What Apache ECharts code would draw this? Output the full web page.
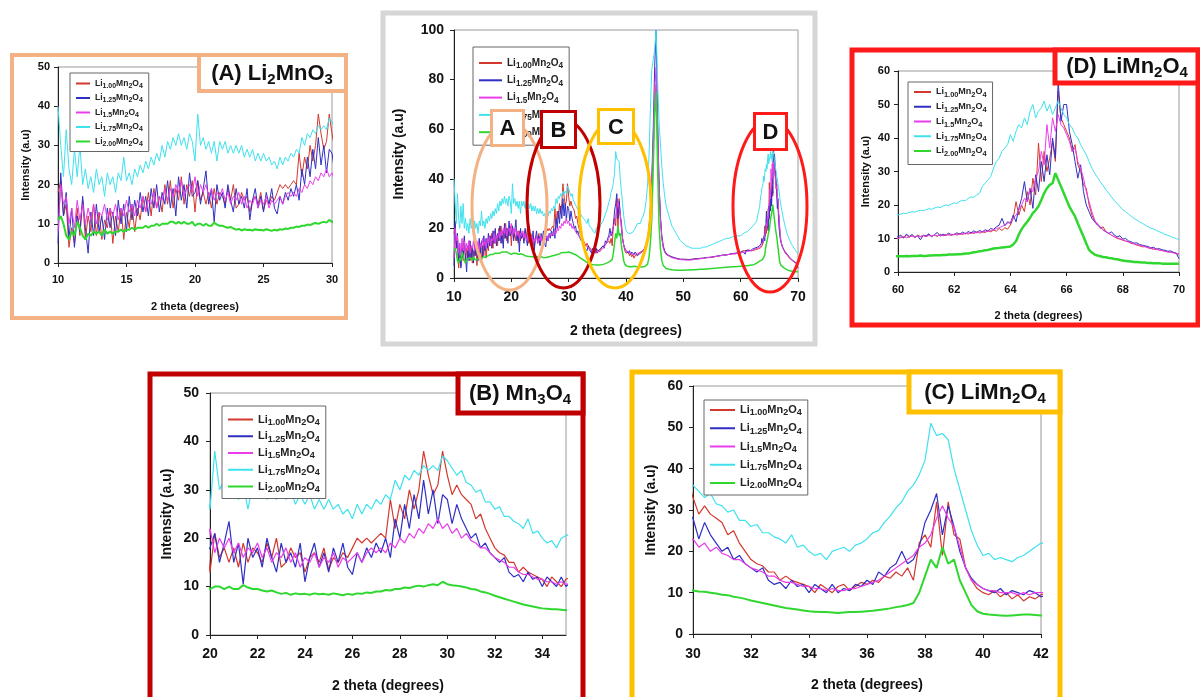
<!DOCTYPE html>
<html>
<head>
<meta charset="utf-8">
<title>XRD LixMn2O4</title>
<script src="https://cdn.jsdelivr.net/npm/echarts@6/dist/echarts.min.js"></script>
<style>
html, body { margin: 0; padding: 0; background: #fff; }
#main { width: 1200px; height: 697px; }
</style>
</head>
<body>
<div id="main"></div>
<script>
// 2 theta sampling: [start, end, step]
const SEGMENTS = [[10, 42, 0.2], [42.25, 47, 0.25], [47.5, 59.5, 0.5], [60, 70, 0.1]];
const names = ['Li1.00Mn2O4', 'Li1.25Mn2O4', 'Li1.5Mn2O4', 'Li1.75Mn2O4', 'Li2.00Mn2O4'];
const colors = ['#d3382d', '#2f2fc4', '#ea3dea', '#3fe1ee', '#2fd72f'];

// intensities (10-42 / 42-60 / 60-70)
const li100 = [
  18, 21, 12, 15, 4, 9, 5, 14, 7, 16,
  6, 12, 8, 15, 7, 13, 6, 11, 9, 14,
  5, 12, 8, 14, 6, 13, 9, 15, 8, 14,
  11, 17, 13, 18, 12, 19, 14, 17, 13, 20,
  15, 21, 14, 19, 16, 22, 15, 20, 17, 21,
  13, 21, 16, 18, 15, 18, 14, 19, 15, 18,
  17, 15, 19, 16, 20, 14, 15, 18, 16, 17,
  13, 16, 17, 15, 18, 13.5, 16, 15, 17, 16,
  18, 20, 19, 20, 19, 20, 21, 20, 28, 22,
  27, 24, 30, 26, 30, 38, 33, 29, 31, 38,
  33, 29, 31, 29, 28, 27, 24, 25, 22, 20,
  18, 17, 16.5, 15, 15, 13, 14, 13, 12.5, 12,
  11.5, 10, 12, 11, 10, 11.5, 12, 10.5, 11.5, 12.5,
  12, 13, 12.5, 14, 13.5, 15, 14, 16, 13, 22,
  24, 21, 32, 19, 32, 24, 23, 16, 13, 11,
  10, 9.5, 10.5, 9, 10, 8.5, 9.5, 8, 9, 8.5,
  9.5,
  10, 10.5, 10, 11, 11.5, 13, 15, 19, 26, 36, 52, 68, 78, 58, 38, 24, 16, 12.5, 10.5, 9.5,
  9, 8.5, 8, 7.8, 7.6, 7.5, 7.6, 7.4, 7.6, 7.8, 7.7, 8, 7.9, 8.2, 8.4, 8.3, 8.6, 8.8, 9, 9.2, 9.4, 9.5, 9.8, 9.7, 10,
  10, 10.5, 10.2, 11, 10.4, 10.8, 10.3, 11, 10.6, 10.9,
  10.5, 11.2, 10.7, 11, 10.6, 11.3, 10.8, 11, 11.2, 10.9,
  11.3, 11, 11.5, 11.2, 11.6, 11.3, 11.8, 11.5, 12, 11.6,
  12, 11.8, 12.3, 12, 12.5, 12.2, 13, 12.4, 13.2, 12.8,
  14, 16, 21, 17, 20, 18, 24, 20, 28, 23,
  38.5, 27, 36, 30, 34, 39, 33, 54, 46, 44,
  42, 40, 36, 38, 32, 30, 26, 25, 20, 17,
  15, 14.5, 13, 13.5, 12, 11.5, 11, 10.5, 10, 9.8,
  9.5, 9.2, 9, 8.5, 8.4, 8, 7.8, 7.5, 7.6, 7.2,
  7, 6.8, 6.9, 6.5, 6.4, 6.2, 6, 5.9, 5.8, 5.6,
  5.3
];
const li125 = [
  5, 23, 12, 18, 6, 14, 4, 12, 8, 17,
  9, 2.5, 13, 7, 15, 8, 12, 6, 14, 9,
  13, 7, 16, 10, 15, 8, 17, 11, 16, 12,
  18, 13, 17, 12, 19, 14, 20, 13, 18, 15,
  21, 14, 19, 12, 22, 16, 20, 14, 23, 17,
  18, 21, 15, 19, 23.5, 15, 19, 10.5, 20, 16,
  18, 14, 20, 16, 13, 19, 15, 17, 14, 19,
  11, 16, 19, 14, 17, 13, 18, 15, 19, 14,
  12.5, 17, 15, 18, 16, 19, 17, 20, 16, 24,
  20, 27, 22, 29, 24, 32, 25, 30, 23, 29,
  28, 23, 27, 24, 22, 20, 21, 18, 19, 17,
  16, 15, 16, 13, 12, 12.5, 11, 13, 11.5, 12,
  10, 12, 11, 10, 12, 10, 11, 10.5, 12, 11.5,
  13, 12, 15, 14, 16, 17, 20, 17, 18, 21,
  27, 30, 34, 24, 31, 26, 20, 16, 13.5, 12,
  11, 10.5, 10, 11, 9.5, 10.5, 10, 9.5, 10.5, 10,
  9,
  9.5, 10, 10.5, 11, 12, 13.5, 15.5, 20, 28, 40, 60, 85, 100, 66, 40, 25, 17, 13, 11, 10,
  9, 8.5, 8.2, 7.8, 7.5, 7.6, 7.3, 7.5, 7.4, 7.7, 7.9, 7.8, 8.1, 8.3, 8.2, 8.5, 8.7, 8.9, 9.1, 9.3, 9.2, 9.6, 9.8, 10, 10.2,
  10.5, 11, 10.2, 11.3, 10.6, 11.2, 10.4, 10.8, 9.6, 11,
  10.8, 11.4, 10.5, 11.2, 11.8, 10.7, 11.3, 11, 11.6, 11.1,
  11.2, 11.7, 11.3, 11.9, 11.4, 12.1, 11.7, 12.3, 11.8, 12.4,
  12, 12.6, 12.2, 13, 12.7, 13.5, 14, 16, 13.8, 15,
  14.5, 17, 15, 19, 22, 27, 21, 25, 19, 29,
  24, 33, 27, 35, 29, 40, 34, 57, 45, 50,
  50, 42, 38, 33, 28, 32, 24, 20, 18, 16,
  15, 14, 13.5, 12.5, 12, 11.5, 12, 11, 10.5, 10.8,
  9.8, 10, 9.3, 9, 8.6, 8.7, 8.2, 8, 7.8, 7.6,
  7.2, 7.4, 6.8, 7, 6.6, 6.5, 6.2, 6.3, 5.9, 5.6,
  4
];
const li150 = [
  8, 20, 15, 17, 10, 14, 9, 16, 11, 15,
  10, 14, 11, 15, 10, 13, 12, 15, 11, 14,
  12, 15, 11, 14, 12, 16, 13, 15, 12, 16,
  14, 17, 13, 16, 15, 18, 14, 17, 16, 19,
  16, 19, 17, 20, 18, 21, 17, 19, 20, 18,
  22, 17, 20, 18, 20, 17, 19, 16, 18, 17,
  19, 16, 18, 15, 17, 16, 18, 15, 17, 14,
  16, 15, 17, 14, 16, 15, 17, 14, 16, 15,
  16, 17, 15, 17, 18, 17, 18, 17, 19, 18,
  20, 19, 21, 20, 22, 21, 23, 22, 24, 22,
  23, 21, 22, 20, 21, 19.5, 19, 18, 18, 17,
  16, 15.5, 15, 14, 14, 13, 12.5, 12.5, 12, 11.5,
  11.5, 11, 11, 10.5, 11, 10.5, 10.5, 11, 11, 11.5,
  12, 12.5, 13, 14, 15, 16, 17, 18, 19, 21,
  22, 24, 28, 31, 28, 26, 21, 16, 13, 12,
  11, 10.5, 10.5, 10, 10, 10, 9.5, 10, 9.5, 10,
  10,
  10, 10, 10.5, 11, 11.5, 13, 15, 19, 27, 38, 56, 75, 85, 62, 39, 24, 16, 12, 10.5, 9.5,
  8.8, 8.2, 7.9, 7.6, 7.4, 7.3, 7.3, 7.2, 7.3, 7.5, 7.6, 7.8, 7.9, 8.1, 8.3, 8.4, 8.6, 8.8, 9, 9.2, 9.4, 9.5, 9.7, 9.8, 10,
  10, 10.3, 10.6, 10.2, 10.5, 10.8, 10.4, 10.7, 10.5, 10.9,
  10.6, 10.9, 10.7, 11, 10.8, 11.1, 10.9, 11.2, 11, 11.3,
  11.1, 11.4, 11.2, 11.5, 11.4, 11.7, 11.5, 11.8, 11.7, 12,
  11.9, 12.2, 12.1, 12.4, 12.6, 13, 13.2, 13.6, 14, 14.5,
  15, 16, 17, 18.5, 20, 22, 21, 25, 24, 28,
  30, 36, 32, 44, 37, 46, 42, 47, 44, 43,
  41, 39, 36, 37, 33, 31, 28, 24, 21, 18,
  15.5, 14, 13.5, 12.5, 12, 11.5, 11, 10.5, 10.2, 10,
  9.6, 9.3, 9, 8.7, 8.5, 8.2, 8, 7.8, 7.5, 7.3,
  7.1, 6.9, 6.8, 6.6, 6.4, 6.2, 6, 5.9, 5.7, 5.5,
  5.3
];
const li175 = [
  40, 30, 22, 34, 24, 20, 29, 22, 30, 20,
  24, 19, 22, 18, 24, 20, 22, 17, 23, 20,
  22, 18, 23, 21, 27, 21, 23, 20, 24, 22,
  25, 23, 26, 24, 27, 25, 28, 26, 30, 27,
  31, 29, 32, 30, 33, 30, 32, 29, 33, 31,
  26, 38, 30, 32, 29, 31, 28, 31, 26, 31,
  29, 31, 28, 30, 28, 30, 28, 30, 27, 29,
  27, 29, 26, 28, 26, 28, 26, 27, 25, 26,
  24, 27, 25, 27, 26, 28, 27, 29, 28, 32,
  30, 33, 32, 34, 33, 35, 34, 35, 34, 37,
  36, 34.5, 33, 34, 31.5, 31, 29.5, 30, 27.5, 27.5,
  26, 26.5, 24.5, 24.5, 23.5, 23, 22, 24, 21, 21.5,
  20, 19, 19.5, 18, 20, 20.5, 21, 20, 21.5, 22,
  23, 24.5, 25, 27, 28.5, 30.5, 32, 34.5, 36, 38.5,
  42, 51, 48, 48.5, 47, 40, 35, 30, 25, 21.5,
  19, 19.5, 18, 18.5, 18, 17.5, 18.5, 19, 20, 21,
  22,
  22, 22, 24, 25, 27, 31, 37, 48, 68, 84, 88, 92, 100, 80, 64, 54, 45, 38, 33, 29,
  25, 21, 19, 17, 15, 14, 13, 12.5, 12, 12, 12, 12, 12.5, 12.5, 13, 13.5, 14, 14.5, 15, 15.5, 16, 16, 16.5, 17, 17,
  17, 17.3, 17.6, 17.4, 17.8, 18, 17.9, 18.2, 18.4, 18.3,
  18.6, 18.9, 18.7, 19.1, 19.4, 19.2, 19.7, 20, 19.8, 20.3,
  20.6, 20.5, 21.1, 21.4, 21.3, 22, 22.4, 22.3, 23, 23.5,
  25.5, 26.5, 27.5, 28.5, 31, 33, 34, 36, 37, 38,
  41, 39, 42, 44, 43, 46, 44, 48, 50, 46,
  48, 49, 51, 48, 50, 47, 49, 51, 49, 47,
  46, 44, 43, 41, 40, 38, 36.5, 35, 33, 31,
  29.5, 28.2, 27, 25.8, 24.5, 23.5, 22.4, 21.3, 20.5, 19.5,
  18.6, 18, 17.3, 16.6, 16, 15.5, 15, 14.5, 14, 13.5,
  13.1, 12.8, 12.4, 12, 11.7, 11.2, 11, 10.6, 10.3, 10,
  9.6
];
const li200 = [
  11, 12, 10, 7, 6, 8, 7, 10.5, 9, 7,
  6, 7.5, 7, 8, 7.5, 8, 7, 8.5, 7.5, 8,
  7.5, 8, 8, 8.5, 8, 8.5, 8.5, 9, 8.5, 9,
  9, 9, 9.5, 9, 9.5, 9.5, 10, 9.5, 10, 10,
  10, 10.5, 10.5, 10, 10.5, 10, 10.5, 10, 10, 10.5,
  9.5, 10, 10, 9.5, 10, 9.5, 9.5, 10.3, 9.8, 9.5,
  9.5, 9.2, 9, 9.2, 8.8, 8.5, 8.7, 8.3, 8.6, 8.4,
  8.5, 8.3, 8.6, 8.4, 8.5, 8.3, 8.6, 8.4, 8.2, 8.5,
  8.3, 8.6, 8.5, 8.8, 8.7, 9, 9, 9.3, 9.2, 9.5,
  9.5, 9.8, 9.7, 10, 10.2, 10, 10.3, 10.5, 10.3, 11,
  10.5, 10.3, 10.2, 10, 9.8, 9.5, 9.4, 9, 8.8, 8.5,
  8.1, 7.8, 7.5, 7.2, 6.9, 6.6, 6.3, 6.1, 5.9, 5.7,
  5.5, 5.4, 5.3, 5.3, 5.2, 5.1, 5.2, 5.3, 5.3, 5.4,
  5.5, 5.6, 5.8, 6, 6.2, 6.5, 6.7, 7, 7.5, 10,
  14, 18, 16, 21, 17, 18, 13, 10, 7, 5.5,
  4.9, 4.7, 4.6, 4.5, 4.4, 4.5, 4.6, 4.7, 4.7, 4.6,
  4.5,
  4.5, 4.4, 4.4, 4.5, 4.6, 4.8, 5.5, 8, 14, 24, 44, 66, 75, 46, 22, 12, 7, 5, 4.2, 3.8,
  3.5, 3.3, 3.2, 3.1, 3.1, 3.1, 3.2, 3.2, 3.3, 3.3, 3.4, 3.5, 3.5, 3.6, 3.7, 3.8, 3.9, 4, 4.1, 4.2, 4.3, 4.4, 4.5, 4.5, 4.6,
  4.7, 4.7, 4.7, 4.8, 4.7, 4.8, 4.8, 4.8, 4.9, 4.8,
  4.8, 4.9, 4.9, 5, 5, 5, 5.1, 5.1, 5.2, 5.2,
  5.2, 5.3, 5.3, 5.4, 5.5, 5.5, 5.7, 5.9, 6, 6.2,
  6.3, 6.5, 6.6, 6.8, 7, 7.1, 7.2, 7.3, 7.4, 7.5,
  7.6, 8.2, 9.2, 11.2, 12.8, 14, 15, 16.2, 17.6, 18.5,
  19.6, 21.5, 23.5, 25, 26, 26.5, 29.5, 27.5, 25.5, 23.5,
  21.5, 19.5, 18, 16.6, 14.5, 12.5, 10.6, 8.5, 6.6, 5.8,
  5.2, 4.9, 4.7, 4.5, 4.4, 4.2, 4.1, 3.9, 3.8, 3.6,
  3.4, 3.3, 3.2, 3.1, 3, 3, 2.9, 2.8, 2.8, 2.7,
  2.7, 2.6, 2.6, 2.6, 2.5, 2.5, 2.5, 2.5, 2.5, 2.5,
  2.5
];
const samples = [li100, li125, li150, li175, li200];

// x grid
const theta = [];
SEGMENTS.forEach(function (seg) {
  const n = Math.round((seg[1] - seg[0]) / seg[2]);
  for (let i = 0; i <= n; i++) theta.push(+(seg[0] + i * seg[2]).toFixed(2));
});
samples.forEach(function (s, i) {
  if (s.length !== theta.length) console.warn('length mismatch', names[i], s.length, theta.length);
});

const F = '"Liberation Sans", Arial, sans-serif';

// panel layout: A, main, D, B, C
const panels = [
  { grid: [58, 67, 274, 196], x: [10, 30, 5], y: [0, 50, 10], font: 11, nameFont: 11, xGap: 38, yGap: 27, lm: 8, xm: 11,
    lg: { left: 70, top: 73, font: 8.5, w: 14, lh: 12, gap: 4, pad: [6, 6, 4, 6] }, thin: 1, thick: 2 },
  { grid: [454, 30, 344, 248], x: [10, 70, 10], y: [0, 100, 20], font: 14, nameFont: 14, xGap: 46, yGap: 48, lm: 10, xm: 12,
    lg: { left: 473, top: 47, font: 10, w: 23, lh: 14, gap: 5.3, pad: [11, 6, 6, 6] }, thin: 1, thick: 1.5 },
  { grid: [898, 71, 281, 201], x: [60, 70, 2], y: [0, 60, 10], font: 11, nameFont: 11, xGap: 38, yGap: 27, lm: 8, xm: 12,
    lg: { left: 908, top: 82, font: 9, w: 17, lh: 13, gap: 3.75, pad: [5.5, 6, 7, 6] }, thin: 1, thick: 2.5 },
  { grid: [210, 393, 356, 242], x: [20, 35, 2], y: [0, 50, 10], font: 14, nameFont: 14, xGap: 44, yGap: 36, lm: 11, xm: 12,
    lg: { left: 222, top: 406, font: 11, w: 25, lh: 15, gap: 3.75, pad: [8, 6, 4.5, 6] }, thin: 1.2, thick: 2 },
  { grid: [693, 386, 348, 248], x: [30, 42, 2], y: [0, 60, 10], font: 14, nameFont: 14, xGap: 44, yGap: 35, lm: 10, xm: 13,
    lg: { left: 704, top: 400, font: 11, w: 25, lh: 15, gap: 5.25, pad: [4.5, 6, 4.5, 6] }, thin: 1.2, thick: 2 }
];

function richName(name) {
  const m = name.match(/^Li([\d.]+)Mn2O4$/);
  return '{n|Li}{s|' + m[1] + '}{n|Mn}{s|2}{n|O}{s|4}';
}

const grids = [], xAxes = [], yAxes = [], legends = [], series = [];
panels.forEach(function (p, gi) {
  grids.push({ left: p.grid[0], top: p.grid[1], width: p.grid[2], height: p.grid[3],
    show: true, borderColor: '#9a9a9a', borderWidth: 1, backgroundColor: 'transparent' });
  xAxes.push({
    type: 'value', gridIndex: gi, min: p.x[0], max: p.x[1], interval: p.x[2],
    name: '2 theta (degrees)', nameLocation: 'middle', nameGap: p.xGap,
    nameTextStyle: { fontFamily: F, fontWeight: 'bold', fontSize: p.nameFont, color: '#111' },
    axisLine: { lineStyle: { color: '#222', width: 1 } },
    axisTick: { length: 4, lineStyle: { color: '#222' } },
    axisLabel: { fontFamily: F, fontWeight: 'bold', fontSize: p.font, color: '#111', margin: p.xm, showMaxLabel: gi !== 3 },
    splitLine: { show: false }
  });
  yAxes.push({
    type: 'value', gridIndex: gi, min: p.y[0], max: p.y[1], interval: p.y[2],
    name: 'Intensity (a.u)', nameLocation: 'middle', nameGap: p.yGap,
    nameTextStyle: { fontFamily: F, fontWeight: 'bold', fontSize: p.nameFont, color: '#111' },
    axisLine: { show: true, lineStyle: { color: '#222', width: 1 } },
    axisTick: { show: true, length: 4, lineStyle: { color: '#222' } },
    axisLabel: { fontFamily: F, fontWeight: 'bold', fontSize: p.font, color: '#111', margin: p.lm },
    splitLine: { show: false }
  });
  const f = p.lg.font;
  legends.push({
    data: names, orient: 'vertical', left: p.lg.left, top: p.lg.top,
    itemWidth: p.lg.w, itemHeight: 2, itemGap: p.lg.gap, icon: 'rect',
    backgroundColor: '#fff', borderColor: '#666', borderWidth: 1, padding: p.lg.pad,
    selectedMode: false,
    formatter: richName,
    textStyle: {
      color: '#222',
      rich: {
        n: { fontFamily: F, fontWeight: 'bold', fontSize: f, color: '#222', lineHeight: p.lg.lh },
        s: { fontFamily: F, fontWeight: 'bold', fontSize: f * 0.82, color: '#222', lineHeight: p.lg.lh * 0.6, verticalAlign: 'bottom' }
      }
    }
  });
  samples.forEach(function (vals, si) {
    series.push({
      type: 'line', name: names[si], xAxisIndex: gi, yAxisIndex: gi,
      data: theta.map(function (t, i) { return [t, vals[i]]; }),
      symbol: 'none', showSymbol: false, silent: true, animation: false,
      lineStyle: { color: colors[si], width: si === 4 ? p.thick : p.thin },
      itemStyle: { color: colors[si] }
    });
  });
});

// frames, title boxes, ellipses
const graphic = [];
function frame(x, y, w, h, c, lw, fill) {
  graphic.push({ type: 'rect', z: 100, shape: { x: x, y: y, width: w, height: h },
    style: { fill: fill || 'transparent', stroke: c, lineWidth: lw } });
}
function label(cx, cy, text, size) {
  graphic.push({ type: 'text', z: 101, x: cx, y: cy,
    style: {
      text: text, align: 'center', verticalAlign: 'middle', textAlign: 'center', textVerticalAlign: 'middle',
      rich: {
        b: { fontFamily: F, fontWeight: 'bold', fontSize: size, fill: '#111', lineHeight: size * 1.25 },
        s: { fontFamily: F, fontWeight: 'bold', fontSize: size * 0.68, fill: '#111', lineHeight: size * 0.7, verticalAlign: 'bottom' }
      }
    } });
}
frame(12, 55, 334, 263, '#f4b183', 4);
frame(383, 13, 432, 331, '#d6d6d6', 5);
frame(852, 50, 346, 275, '#ff1a1a', 5);
frame(150, 374, 433, 330, '#c00000', 5);
frame(632, 372, 428, 330, '#ffc000', 5);

frame(199, 55, 147, 36, '#f4b183', 4, '#fff');
label(272, 74, '{b|(A) Li}{s|2}{b|MnO}{s|3}', 22);
frame(1055, 50, 143, 33, '#ff1a1a', 5, '#fff');
label(1127, 67, '{b|(D) LiMn}{s|2}{b|O}{s|4}', 22);
frame(458, 374, 125, 39, '#c00000', 5, '#fff');
label(520, 394, '{b|(B) Mn}{s|3}{b|O}{s|4}', 22);
frame(909, 372, 151, 40, '#ffc000', 5, '#fff');
label(985, 393, '{b|(C) LiMn}{s|2}{b|O}{s|4}', 22);

const rings = [
  { cx: 509.5, cy: 206.5, rx: 37.5, ry: 83.5, c: '#f4b183', box: [491.5, 110.5, 32, 35], t: 'A' },
  { cx: 563.5, cy: 204, rx: 36.5, ry: 84, c: '#c00000', box: [541.5, 111.5, 34, 36], t: 'B' },
  { cx: 615, cy: 204, rx: 36, ry: 84, c: '#ffc000', box: [598.5, 109.5, 35, 34], t: 'C' },
  { cx: 770, cy: 206, rx: 37, ry: 86, c: '#ff1a1a', box: [754.5, 113.5, 32, 36], t: 'D' }
];
rings.forEach(function (r) {
  graphic.push({ type: 'ellipse', z: 100, shape: { cx: r.cx, cy: r.cy, rx: r.rx, ry: r.ry },
    style: { fill: 'transparent', stroke: r.c, lineWidth: 3 } });
});
rings.forEach(function (r) {
  frame(r.box[0], r.box[1], r.box[2], r.box[3], r.c, 3, '#fff');
  label(r.box[0] + r.box[2] / 2, r.box[1] + r.box[3] / 2 + 1, '{b|' + r.t + '}', 22);
});

const chart = echarts.init(document.getElementById('main'));
chart.setOption({
  backgroundColor: '#fff',
  animation: false,
  grid: grids,
  xAxis: xAxes,
  yAxis: yAxes,
  legend: legends,
  series: series,
  graphic: graphic
});
</script>
</body>
</html>
